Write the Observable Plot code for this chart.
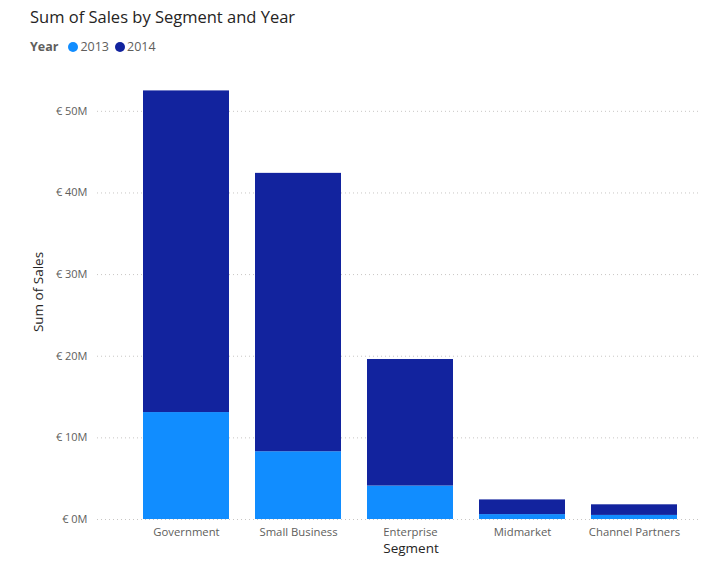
<!DOCTYPE html>
<html><head><meta charset="utf-8">
<script src="https://cdn.jsdelivr.net/npm/d3@7"></script>
<script src="https://cdn.jsdelivr.net/npm/@observablehq/plot@0.6"></script>
<style>
body{margin:0;background:#fff;font-family:"Open Sans","Noto Sans",sans-serif;}
#wrap{width:712px;position:relative;}
#head{position:relative;height:62px;}
#title{position:absolute;left:30px;top:5px;font-size:16.5px;color:#252423;white-space:nowrap;}
#legend{position:absolute;left:30px;top:38px;font-size:12.5px;color:#605E5C;display:flex;align-items:center;white-space:nowrap;}
#legend b{margin-right:10px;}
.sw{display:inline-block;width:10px;height:10px;border-radius:50%;margin-right:2px;}
.it{margin-right:6px;display:flex;align-items:center;}
</style></head>
<body><div id="wrap"><div id="head"><div id="title">Sum of Sales by Segment and Year</div><div id="legend"></div></div><div id="chart"></div></div>
<script>
const segments = ["Government","Small Business","Enterprise","Midmarket","Channel Partners"];
const years = ["2013","2014"];
const sales2013 = [13.1e6, 8.3e6, 4.1e6, 0.6e6, 0.5e6];
const sales2014 = [39.4e6, 34.1e6, 15.5e6, 1.8e6, 1.3e6];
const yTicks = [0, 10e6, 20e6, 30e6, 40e6, 50e6];
const colors = ["#118DFF", "#12239E"];

const rows = [];
segments.forEach((s, i) => {
  rows.push({segment: s, year: years[0], sales: sales2013[i]});
  rows.push({segment: s, year: years[1], sales: sales2014[i]});
});

const leg = document.getElementById("legend");
leg.innerHTML = "<b>Year</b>" + years.map((y, i) =>
  `<span class="it"><span class="sw" style="background:${colors[i]}"></span>${y}</span>`).join("");

const tickColor = "#605E5C";
const chart = Plot.plot({
  width: 712,
  height: 508,
  marginLeft: 97,
  marginRight: 12,
  marginTop: 8,
  marginBottom: 51,
  style: {fontFamily: '"Open Sans","Noto Sans",sans-serif', background: "#fff"},
  x: {domain: segments, paddingInner: 0.2356, paddingOuter: 0.298, align: 0.67, label: null},
  y: {domain: [0, 55e6], label: null},
  color: {domain: years, range: colors},
  marks: [
    Plot.gridY(yTicks, {stroke: "#C8C6C4", strokeOpacity: 1, strokeDasharray: "1,3"}),
    Plot.barY(rows, {x: "segment", y: "sales", fill: "year", order: years}),
    Plot.axisY(yTicks, {tickSize: 0, tickPadding: 10, label: null, fontSize: 11, fill: tickColor,
      tickFormat: d => `€ ${d / 1e6}M`}),
    Plot.axisX({tickSize: 0, tickPadding: 8, label: null, fontSize: 11.3, fill: tickColor}),
    Plot.text(["Sum of Sales"], {frameAnchor: "left", textAnchor: "middle", rotate: -90, dx: -59, dy: -3, fontSize: 13.5, fill: "#252423"}),
    Plot.text(["Segment"], {frameAnchor: "bottom", textAnchor: "middle", dx: 12, dy: 33, fontSize: 13.5, fill: "#252423"})
  ]
});
document.getElementById("chart").appendChild(chart);
</script></body></html>
